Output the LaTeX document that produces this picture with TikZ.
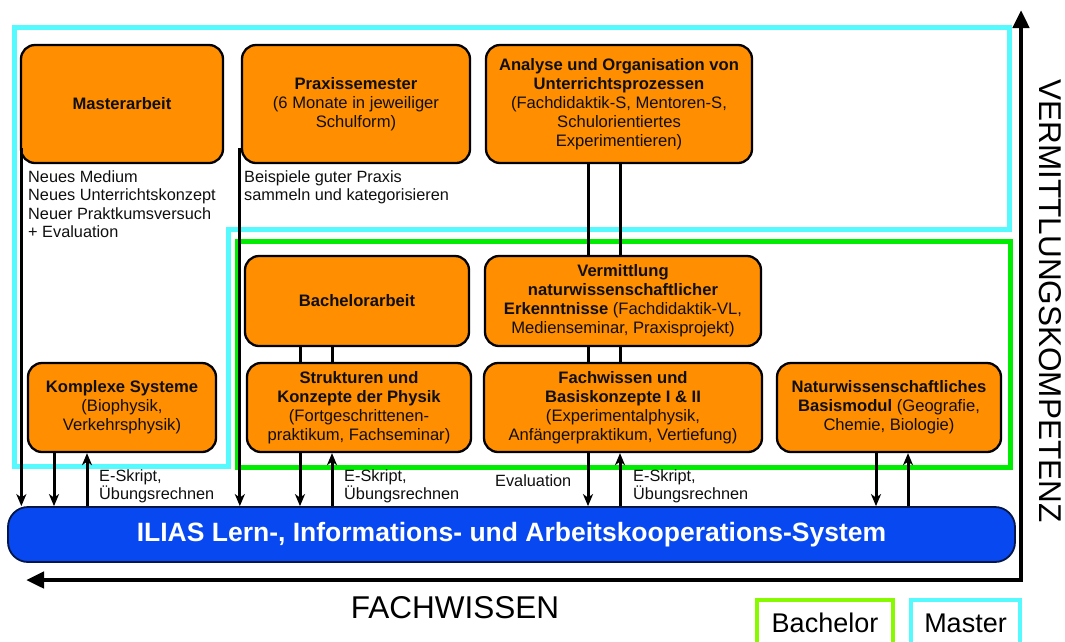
\documentclass[tikz,border=0pt]{standalone}
\usepackage{fontspec}
\setmainfont{Liberation Sans}
\usetikzlibrary{arrows.meta,calc}

\definecolor{boxorange}{RGB}{255,142,0}
\definecolor{mastercyan}{RGB}{85,250,255}
\definecolor{bachgreen}{RGB}{0,236,0}
\definecolor{legendgreen}{RGB}{136,250,0}
\definecolor{iliasblue}{RGB}{8,72,240}
\definecolor{inktext}{RGB}{15,15,15}

\begin{document}
\begin{tikzpicture}[x=1pt,y=-1pt,
  box/.style={draw=black,line width=2.3pt,fill=boxorange,rounded corners=14pt,
    align=center,text=inktext,font=\fontsize{16.6}{19}\selectfont,inner sep=2pt},
  conn/.style={line width=3pt},
  arr/.style={conn,-{Stealth[length=12pt,width=10pt,inset=3.5pt]}},
  note/.style={font=\fontsize{16.3}{18.5}\selectfont,align=left,anchor=north west,
    inner sep=0pt,text=inktext},
  region/.style={line width=5pt,line join=miter},
  legend/.style={line width=4.5pt,font=\fontsize{27}{32}\selectfont,inner sep=0pt},
  axislabel/.style={font=\fontsize{31.5}{36}\selectfont}
]
\useasboundingbox (0,0) rectangle (1065,641);

% regions
\draw[region,mastercyan] (14,27) -- (1009,27) -- (1009,229) -- (228,229)
  -- (228,466) -- (14,466) -- cycle;
\draw[region,bachgreen] (237,241) rectangle (1010,467);

% boxes
\node[box,minimum width=202pt,minimum height=118pt] (ma) at (122,104)
  {\textbf{Masterarbeit}};
\node[box,minimum width=228pt,minimum height=118pt] (ps) at (356,104)
  {\textbf{Praxissemester}\\(6 Monate in jeweiliger\\Schulform)};
\node[box,minimum width=266pt,minimum height=118pt] (an) at (619,104)
  {\textbf{Analyse und Organisation von}\\\textbf{Unterrichtsprozessen}\\(Fachdidaktik-S, Mentoren-S,\\Schulorientiertes\\Experimentieren)};
\node[box,minimum width=224pt,minimum height=90pt] (ba) at (357,301)
  {\textbf{Bachelorarbeit}};
\node[box,minimum width=276pt,minimum height=90pt] (ve) at (623,301)
  {\textbf{Vermittlung}\\\textbf{naturwissenschaftlicher}\\\textbf{Erkenntnisse} (Fachdidaktik-VL,\\Medienseminar, Praxisprojekt)};
\node[box,minimum width=188pt,minimum height=89pt] (ks) at (122,407.5)
  {\textbf{Komplexe Systeme}\\(Biophysik,\\Verkehrsphysik)};
\node[box,minimum width=224pt,minimum height=89pt] (st) at (359,407.5)
  {\textbf{Strukturen und}\\\textbf{Konzepte der Physik}\\(Fortgeschrittenen-\\praktikum, Fachseminar)};
\node[box,minimum width=278pt,minimum height=89pt] (fw) at (623,407.5)
  {\textbf{Fachwissen und}\\\textbf{Basiskonzepte I \& II}\\(Experimentalphysik,\\Anfängerpraktikum, Vertiefung)};
\node[box,minimum width=224pt,minimum height=89pt] (nb) at (889,407.5)
  {\textbf{Naturwissenschaftliches}\\\textbf{Basismodul} (Geografie,\\Chemie, Biologie)};

\node[draw=black!70!iliasblue,line width=1.8pt,fill=iliasblue,rounded corners=20pt,
  minimum width=1007pt,minimum height=55pt,text=white,
  font=\bfseries\fontsize{26.5}{30}\selectfont] (il) at (511.5,534.5)
  {ILIAS Lern-, Informations- und Arbeitskooperations-System};

% notes and labels
\node[note] (manote) at (28,170) {Neues Medium\\Neues Unterrichtskonzept\\Neuer Praktkumsversuch\\+ Evaluation};
\node[note] (psnote) at (244,170) {Beispiele guter Praxis\\sammeln und kategorisieren};
\node[note] (lab1) at (99,469) {E-Skript,\\Übungsrechnen};
\node[note] (lab2) at (344,469) {E-Skript,\\Übungsrechnen};
\node[note] (lab3) at (495,474) {Evaluation};
\node[note] (lab4) at (633,469) {E-Skript,\\Übungsrechnen};

% x positions of connectors
\coordinate (xkd) at (54,0);
\coordinate (xku) at (87,0);
\coordinate (xsd) at (300,0);
\coordinate (xsu) at (332,0);
\coordinate (xfd) at (588,0);
\coordinate (xfu) at (620,0);
\coordinate (xnd) at (876,0);
\coordinate (xnu) at (908,0);
\coordinate (mstart) at ($(ma.south west)+(1.5,-16)$);
\coordinate (pstart) at ($(ps.south west)+(-1,-16)$);

% connectors
\draw[arr] (mstart) -- (il.north -| mstart);
\draw[arr] (pstart) -- (il.north -| pstart);
\draw[arr] (ks.south -| xkd) -- (il.north -| xkd);
\draw[arr] (il.north -| xku) -- (ks.south -| xku);
\draw[arr] (st.south -| xsd) -- (il.north -| xsd);
\draw[arr] (il.north -| xsu) -- (st.south -| xsu);
\draw[arr] (fw.south -| xfd) -- (il.north -| xfd);
\draw[arr] (il.north -| xfu) -- (fw.south -| xfu);
\draw[arr] (nb.south -| xnd) -- (il.north -| xnd);
\draw[arr] (il.north -| xnu) -- (nb.south -| xnu);
\draw[conn] (ba.south -| xsd) -- (st.north -| xsd);
\draw[conn] (ba.south -| xsu) -- (st.north -| xsu);
\draw[conn] (an.south -| xfd) -- (ve.north -| xfd);
\draw[conn] (an.south -| xfu) -- (ve.north -| xfu);
\draw[conn] (ve.south -| xfd) -- (fw.north -| xfd);
\draw[conn] (ve.south -| xfu) -- (fw.north -| xfu);

% axes
\coordinate (corner) at (1021,580);
\coordinate (ytip) at (1021,10);
\coordinate (xtip) at (26,580);
\draw[line width=4.5pt,line join=miter,
  {Triangle[length=18pt,width=16pt]}-{Triangle[length=18pt,width=16pt]}]
  (ytip) -- (corner) -- (xtip);
\node[axislabel,rotate=-90] (vk) at (1050,301) {VERMITTLUNGSKOMPETENZ};
\node[axislabel] (fk) at (455,608) {FACHWISSEN};

% legend
\node[legend,draw=legendgreen,minimum width=136pt,minimum height=46pt] (lb) at (825,623) {Bachelor};
\node[legend,draw=mastercyan,minimum width=109pt,minimum height=46pt] (lm) at (965.5,623) {Master};
\end{tikzpicture}
\end{document}
